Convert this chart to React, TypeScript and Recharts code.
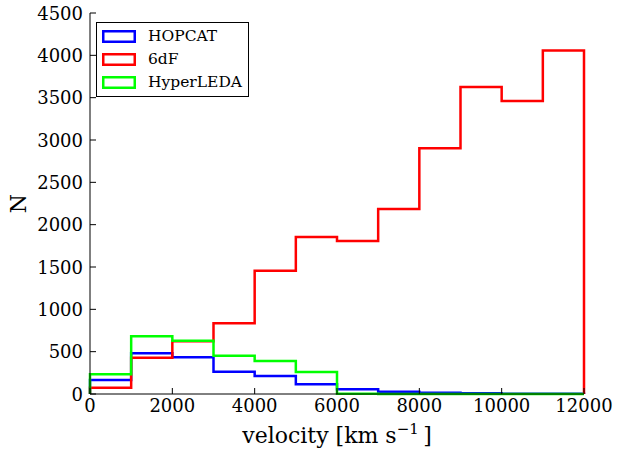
import React from "react";
import { ComposedChart, Line, XAxis, YAxis } from "recharts";

// bin left edges (km/s), each bin is 1000 wide
const binEdges = [0, 1000, 2000, 3000, 4000, 5000, 6000, 7000, 8000, 9000, 10000, 11000];
const binWidth = 1000;

const hopcatCounts = [165, 480, 433, 263, 212, 114, 55, 27, 15, 8, 3, 2];
const sixdfCounts = [75, 429, 622, 835, 1455, 1854, 1807, 2185, 2902, 3626, 3460, 4058];
const hyperledaCounts = [232, 681, 629, 452, 390, 260, 2, 1, 0, 0, 0, 0];

const xTicks = [0, 2000, 4000, 6000, 8000, 10000, 12000];
const yTicks = [0, 500, 1000, 1500, 2000, 2500, 3000, 3500, 4000, 4500];

const series = [
  { name: "HOPCAT", color: "#0000ff", counts: hopcatCounts },
  { name: "6dF", color: "#ff0000", counts: sixdfCounts },
  { name: "HyperLEDA", color: "#00ff00", counts: hyperledaCounts },
];

const FONT = "'DejaVu Serif', serif";
const TICK_FONT = 18;

// matplotlib "step" histogram outline: up from 0, across each bin, down at the end
function stepData(counts: number[]) {
  const pts = [{ x: binEdges[0], y: 0 }];
  counts.forEach((c, i) => pts.push({ x: binEdges[i], y: c }));
  const end = binEdges[binEdges.length - 1] + binWidth;
  pts.push({ x: end, y: counts[counts.length - 1] });
  pts.push({ x: end, y: 0 });
  return pts;
}

const BottomTick = (props: any) => {
  const { x, y, payload } = props;
  return (
    <g>
      <line x1={x} x2={x} y1={y} y2={y - 6} stroke="#000" strokeWidth={1} />
      <text x={x} y={y + 18} textAnchor="middle" fontFamily={FONT} fontSize={TICK_FONT} fill="#000">
        {payload.value}
      </text>
    </g>
  );
};

const TopTick = (props: any) => {
  const { x, y } = props;
  return <line x1={x} x2={x} y1={y} y2={y + 6} stroke="#000" strokeWidth={1} />;
};

const LeftTick = (props: any) => {
  const { x, y, payload } = props;
  return (
    <g>
      <line x1={x} x2={x + 6} y1={y} y2={y} stroke="#000" strokeWidth={1} />
      <text x={x - 7} y={y + 6.5} textAnchor="end" fontFamily={FONT} fontSize={TICK_FONT} fill="#000">
        {payload.value}
      </text>
    </g>
  );
};

const RightTick = (props: any) => {
  const { x, y } = props;
  return <line x1={x} x2={x - 6} y1={y} y2={y} stroke="#000" strokeWidth={1} />;
};

const XLabel = (props: any) => {
  const { viewBox } = props;
  const cx = viewBox.x + viewBox.width / 2;
  return (
    <text x={cx} y={443} textAnchor="middle" fontFamily={FONT} fontSize={22} fill="#000">
      velocity [km s
      <tspan dy={-9} fontSize={15}>{"\u22121"}</tspan>
      <tspan dy={9}>{"\u2009]"}</tspan>
    </text>
  );
};

const YLabel = (props: any) => {
  const { viewBox } = props;
  const cy = viewBox.y + viewBox.height / 2;
  return (
    <text
      x={26}
      y={cy}
      transform={`rotate(-90 26 ${cy})`}
      textAnchor="middle"
      fontFamily={FONT}
      fontSize={22}
      fill="#000"
    >
      N
    </text>
  );
};

function LegendBox() {
  return (
    <div
      style={{
        position: "absolute",
        left: 96,
        top: 22,
        width: 153,
        height: 75,
        border: "1px solid #000",
        background: "#fff",
        fontFamily: FONT,
        fontSize: 15.5,
        boxSizing: "border-box",
      }}
    >
      {series.map((s, i) => (
        <div key={s.name} style={{ position: "absolute", left: 5, top: 6.5 + i * 23, height: 13, display: "flex", alignItems: "center" }}>
          <svg width={34} height={13} style={{ display: "block" }}>
            <rect x={1.25} y={1.25} width={31.5} height={10.5} fill="none" stroke={s.color} strokeWidth={2.5} />
          </svg>
          <span style={{ marginLeft: 12, lineHeight: "13px" }}>{s.name}</span>
        </div>
      ))}
    </div>
  );
}

export default function App() {
  return (
    <div style={{ position: "absolute", left: 0, top: 0, width: 621, height: 450, background: "#fff" }}>
      <ComposedChart width={621} height={450} margin={{ top: 13, right: 37, bottom: 0, left: 0 }}>
        <XAxis
          xAxisId="bottom"
          type="number"
          dataKey="x"
          domain={[0, 12000]}
          ticks={xTicks}
          tick={<BottomTick />}
          tickLine={false}
          tickSize={0}
          tickMargin={0}
          axisLine={{ stroke: "#000" }}
          height={56}
          allowDuplicatedCategory
          label={<XLabel />}
        />
        <XAxis
          xAxisId="top"
          orientation="top"
          type="number"
          domain={[0, 12000]}
          ticks={xTicks}
          tick={<TopTick />}
          tickLine={false}
          tickSize={0}
          tickMargin={0}
          axisLine={{ stroke: "#000" }}
          height={0}
        />
        <YAxis
          yAxisId="left"
          type="number"
          domain={[0, 4500]}
          ticks={yTicks}
          tick={<LeftTick />}
          tickLine={false}
          tickSize={0}
          tickMargin={0}
          axisLine={{ stroke: "#000" }}
          width={90}
          label={<YLabel />}
        />
        <YAxis
          yAxisId="right"
          orientation="right"
          type="number"
          domain={[0, 4500]}
          ticks={yTicks}
          tick={<RightTick />}
          tickLine={false}
          tickSize={0}
          tickMargin={0}
          axisLine={{ stroke: "#000" }}
          width={0}
        />
        {series.map((s) => (
          <Line
            key={s.name}
            xAxisId="bottom"
            yAxisId="left"
            data={stepData(s.counts)}
            dataKey="y"
            type="stepAfter"
            stroke={s.color}
            strokeWidth={2.5}
            dot={false}
            activeDot={false}
            isAnimationActive={false}
          />
        ))}
      </ComposedChart>
      <LegendBox />
    </div>
  );
}
